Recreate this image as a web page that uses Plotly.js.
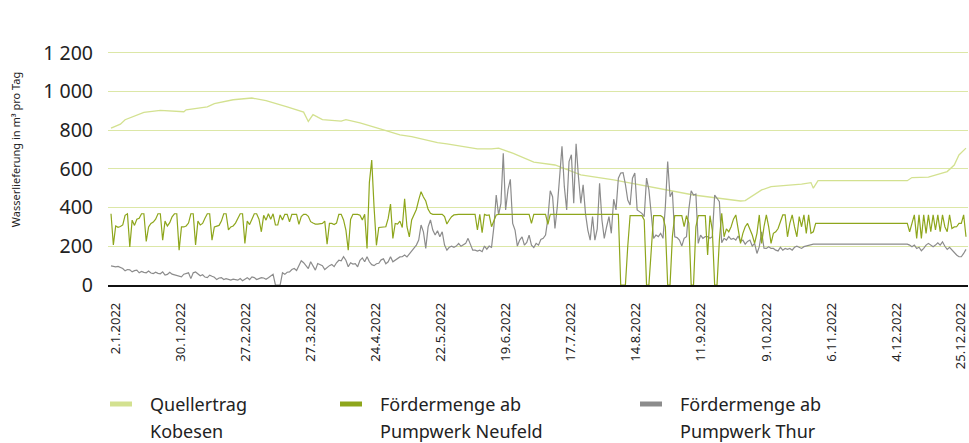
<!DOCTYPE html>
<html>
<head>
<meta charset="utf-8">
<script src="https://cdn.plot.ly/plotly-3.0.1.min.js"></script>
<style>html,body{margin:0;padding:0;background:#fff;}#chart{width:969px;height:443px;}</style>
</head>
<body>
<div id="chart"></div>
<script>
// ---- DATA ----
// x = day index in 2022 (0 = 1 Jan)
var seriesNames = ["Quellertrag<br>Kobesen", "Fördermenge ab<br>Pumpwerk Neufeld", "Fördermenge ab<br>Pumpwerk Thur"];

var quellDays = [0, 4, 6, 9, 14, 21, 31, 32, 41, 44, 52, 60, 66, 75, 82, 84, 86, 90, 98, 100, 106, 116, 123, 128, 139, 143, 156, 162, 165, 171, 180, 189, 200, 214, 229, 243, 248, 268, 270, 277, 281, 294, 298, 299, 301, 339, 341, 348, 356, 359, 361, 364];
var quellVals = [810, 831, 854, 868, 892, 902, 895, 905, 920, 937, 957, 966, 952, 920, 893, 845, 880, 854, 847, 854, 837, 802, 776, 767, 736, 729, 703, 703, 707, 681, 635, 620, 569, 543, 508, 474, 465, 434, 436, 491, 508, 521, 529, 500, 539, 539, 555, 557, 586, 620, 672, 707];

var neufeld = [
 368,207,305,298,302,310,360,368,197,335,
 308,340,345,368,368,225,300,318,325,340,
 368,368,232,330,305,322,352,368,368,180,
 300,300,305,320,368,368,207,330,310,318,
 345,368,368,232,300,303,308,330,368,368,
 285,300,305,320,345,368,368,215,330,312,
 340,368,368,340,275,360,335,368,340,368,
 310,310,362,336,365,365,327,365,365,365,
 313,353,365,365,355,327,320,315,315,315,
 318,330,211,318,318,312,320,365,365,336,
 284,180,339,365,365,365,360,336,365,189,
 530,645,400,205,297,298,300,301,344,418,
 241,318,315,330,297,445,301,249,336,362,
 390,440,482,455,434,391,370,365,365,365,
 365,365,353,315,336,353,362,365,365,365,
 365,365,365,365,365,365,284,365,270,365,
 360,362,301,336,362,365,365,365,365,365,
 365,365,365,365,365,365,365,365,365,318,
 365,365,365,365,365,365,313,365,365,365,
 365,365,366,366,366,366,366,367,367,367,
 367,367,367,367,367,367,368,368,368,368,
 368,368,368,368,368,365,365,0,0,0,
 200,358,358,358,358,358,358,336,0,0,
 200,358,358,358,358,350,301,0,0,250,
 358,358,358,358,301,358,320,0,0,300,
 358,358,358,358,155,358,284,0,0,231,
 370,249,290,275,301,340,362,275,215,267,
 301,318,290,258,215,267,362,215,301,362,
 300,215,267,275,292,330,362,362,249,318,
 362,300,249,353,301,362,267,362,267,275,
 318,318,318,318,318,318,318,318,318,318,
 318,318,318,318,318,318,318,318,318,318,
 318,318,318,318,318,318,318,318,318,318,
 318,318,318,318,318,318,318,318,318,318,
 275,318,362,241,362,241,362,267,362,275,
 362,284,362,275,362,301,275,362,292,300,
 301,318,318,362,249
];

var thur = [
 99,97,94,96,90,85,73,80,78,68,
 74,77,63,70,65,63,72,62,59,66,
 60,58,68,51,55,66,56,52,51,48,
 42,56,60,63,33,63,67,55,48,53,
 41,38,51,45,40,28,36,38,28,33,
 30,25,30,26,25,33,22,30,38,28,
 42,38,28,33,38,36,30,38,45,56,
 0,0,0,63,55,66,68,80,85,75,
 103,125,115,100,85,120,95,77,111,105,
 100,80,92,100,106,95,115,128,125,146,
 128,94,115,108,110,94,128,140,120,146,
 120,105,100,110,112,130,135,110,120,146,
 120,128,140,145,146,155,145,160,172,189,
 206,232,310,275,189,300,336,284,258,280,
 249,275,206,180,195,201,195,201,215,200,
 210,215,241,215,180,180,175,180,172,201,
 185,201,195,300,465,362,422,681,388,491,
 546,318,284,201,232,249,206,220,258,206,
 194,215,206,235,241,258,344,487,456,292,
 405,560,716,508,388,638,673,422,729,560,
 422,517,370,284,232,353,232,290,526,336,
 241,301,353,267,443,388,552,578,580,520,
 439,413,552,578,388,379,370,353,552,491,
 362,241,258,250,267,241,405,638,456,482,
 249,245,232,201,241,250,391,487,465,470,
 215,258,241,250,250,241,250,465,448,430,
 218,241,232,250,236,241,232,253,225,232,
 211,225,232,201,215,163,198,275,190,189,
 198,189,189,180,176,195,180,189,184,189,
 180,195,201,195,189,198,201,206,206,211,
 211,211,211,211,211,211,211,211,211,211,
 211,211,211,211,211,211,211,211,211,211,
 211,211,211,211,211,211,211,211,211,211,
 211,211,211,211,211,211,211,211,211,211,
 206,198,206,189,195,177,189,206,215,206,
 198,206,218,206,223,200,184,195,180,170,
 155,146,146,163,184
];

var xTickLabels = ["2.1.2022","30.1.2022","27.2.2022","27.3.2022","24.4.2022","22.5.2022","19.6.2022","17.7.2022","14.8.2022","11.9.2022","9.10.2022","6.11.2022","4.12.2022","25.12.2022"];
var xTickPos = [2, 29.7, 57.4, 85.1, 112.8, 140.5, 168.2, 195.9, 223.6, 251.3, 279, 306.7, 334.4, 361.6];
var yTickVals = [0, 200, 400, 600, 800, 1000, 1200, 1400];
var yTickText = ["0", "200", "400", "600", "800", "1 000", "1 200", ""];

// ---- STYLE ----
var colors = ["#d3e190", "#8ea61c", "#8c8c8c"];
var W = 969, H = 443, ML = 108, MR = 1, MT = 14, MB = 158;
var plotW = W - ML - MR, plotH = H - MT - MB;
function px2x(px) { return (px - ML) / plotW; }
function py2y(py) { return (H - MB - py) / plotH; }

var dayIdx = neufeld.map(function (v, i) { return i; });

var traces = [
  {x: quellDays, y: quellVals, type: "scatter", mode: "lines", name: seriesNames[0],
   line: {color: colors[0], width: 1.3}, showlegend: false},
  {x: dayIdx, y: thur, type: "scatter", mode: "lines", name: seriesNames[2],
   line: {color: colors[2], width: 1.2}, showlegend: false},
  {x: dayIdx, y: neufeld, type: "scatter", mode: "lines", name: seriesNames[1],
   line: {color: colors[1], width: 1.2}, showlegend: false}
];

// legend drawn as shapes + annotations
var legendItems = [
  {sw: [110, 132], tx: 148, c: colors[0], l: ["Quellertrag", "Kobesen"]},
  {sw: [340, 362], tx: 378, c: colors[1], l: ["Fördermenge ab", "Pumpwerk Neufeld"]},
  {sw: [640, 662], tx: 678, c: colors[2], l: ["Fördermenge ab", "Pumpwerk Thur"]}
];
var shapes = [], annotations = [];
legendItems.forEach(function (it) {
  shapes.push({type: "line", xref: "paper", yref: "paper", x0: px2x(it.sw[0]), x1: px2x(it.sw[1]),
    y0: py2y(404), y1: py2y(404), line: {color: it.c, width: 5}});
  annotations.push({xref: "paper", yref: "paper", x: px2x(it.tx), y: py2y(404), xanchor: "left", yanchor: "middle",
    text: it.l[0], showarrow: false, font: {family: "Noto Sans", size: 18, color: "#222"}});
  annotations.push({xref: "paper", yref: "paper", x: px2x(it.tx), y: py2y(431), xanchor: "left", yanchor: "middle",
    text: it.l[1], showarrow: false, font: {family: "Noto Sans", size: 18, color: "#222"}});
});

var layout = {
  width: W, height: H,
  margin: {l: ML, r: MR, t: MT, b: MB, pad: 0},
  paper_bgcolor: "#fff", plot_bgcolor: "#fff",
  showlegend: false,
  font: {family: "Noto Sans", color: "#222"},
  xaxis: {
    range: [-1.28, 364.85], tickmode: "array", tickvals: xTickPos, ticktext: xTickLabels,
    tickangle: -90, tickfont: {size: 13, color: "#222"}, ticks: "", ticklabelstandoff: 11,
    ticklabeloverflow: "allow",
    showgrid: false, zeroline: false, showline: true, linecolor: "#111", linewidth: 1.5
  },
  yaxis: {
    range: [0, 1400], tickmode: "array", tickvals: yTickVals, ticktext: yTickText,
    tickfont: {size: 19.5, color: "#222"}, ticks: "", ticklabelstandoff: 14,
    showgrid: true, gridcolor: "#dce7a7", gridwidth: 1, zeroline: false, showline: false,
    title: {text: "Wasserlieferung in m³ pro Tag", font: {size: 11, color: "#222"}, standoff: 20}
  },
  shapes: shapes,
  annotations: annotations
};

Plotly.newPlot("chart", traces, layout, {displayModeBar: false, staticPlot: true});
</script>
</body>
</html>
